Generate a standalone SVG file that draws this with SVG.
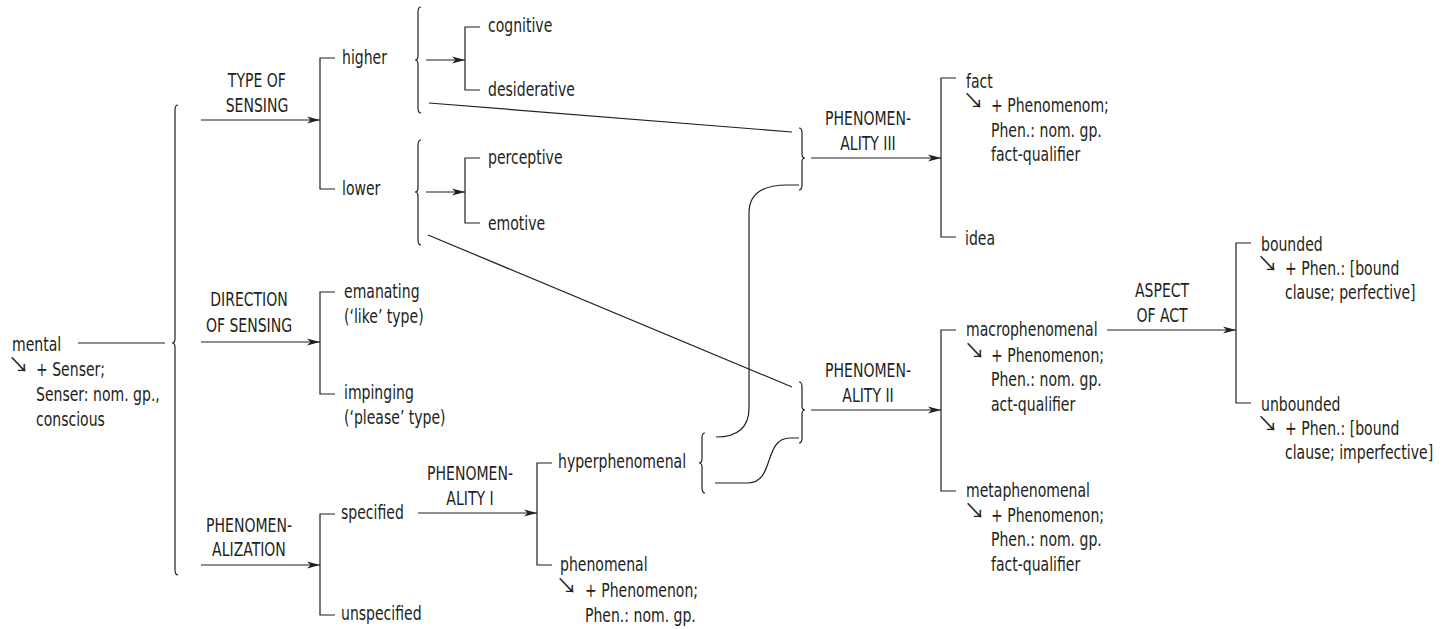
<svg xmlns="http://www.w3.org/2000/svg" width="1442" height="629" viewBox="0 0 1442 629">
<style>
.t{font-family:"Liberation Sans Narrow","DejaVu Sans Condensed","Liberation Sans",sans-serif;font-size:20px;fill:#231f20;transform:scaleX(0.78);transform-box:fill-box;transform-origin:0 0}
.c{text-anchor:middle;transform-origin:50% 0}
.s{font-family:"Noto Sans CJK JP","Noto Sans CJK SC","DejaVu Sans",sans-serif;font-size:21px;fill:#231f20}
.ln{fill:none;stroke:#231f20;stroke-width:1.2}
.ar{marker-end:url(#ah)}
</style>
<defs>
<marker id="ah" markerWidth="14" markerHeight="8" refX="13" refY="4" orient="auto" markerUnits="userSpaceOnUse"><path d="M0,0.6 L13,4 L0,7.4 L3.5,4 z" fill="#231f20"/></marker>
</defs>
<rect width="1442" height="629" fill="#fff"/>
<g id="connectors">
<path class="ln" d="M78,343 H165"/>
<path class="ln" d="M178,105 Q175,105 175,110 L175,339 Q175,343 172,343 Q175,343 175,347 L175,570 Q175,575 178,575"/>
<path class="ln ar" d="M201,120 H320"/>
<path class="ln ar" d="M201,342 H320"/>
<path class="ln ar" d="M201,565 H320"/>
<path class="ln" d="M335,58 H320 V189 H335"/>
<path class="ln" d="M335,292 H320 V394 H335"/>
<path class="ln" d="M335,514 H320 V615 H335"/>
<path class="ln" d="M421,7 Q418,7 418,12 L418,56 Q418,60 415,60 Q418,60 418,64 L418,108 Q418,113 421,113"/>
<path class="ln" d="M421,140 Q418,140 418,145 L418,188 Q418,192 415,192 Q418,192 418,196 L418,240 Q418,245 421,245"/>
<path class="ln ar" d="M426,60 H465"/>
<path class="ln ar" d="M426,192 H465"/>
<path class="ln" d="M480,27 H465 V90 H480"/>
<path class="ln" d="M480,158 H465 V223 H480"/>
<path class="ln" d="M429,103 L792,132"/>
<path class="ln" d="M428,235 L792,387"/>
<path class="ln ar" d="M418,513 H537"/>
<path class="ln" d="M552,463 H537 V565 H552"/>
<path class="ln" d="M705,433 Q702,433 702,438 L702,459 Q702,463 699,463 Q702,463 702,467 L702,488 Q702,493 705,493"/>
<path class="ln" d="M716,437 Q749,437 749,408 L749,213 Q749,185 787,185 L799,185"/>
<path class="ln" d="M715,483 L748,483 C775,483 763,438 790,438 L799,438"/>
<path class="ln" d="M799,128 Q802,128 802,133 L802,154 Q802,158 805,158 Q802,158 802,162 L802,185 Q802,190 799,190"/>
<path class="ln" d="M799,382 Q802,382 802,387 L802,406 Q802,410 805,410 Q802,410 802,414 L802,438 Q802,443 799,443"/>
<path class="ln ar" d="M811,158 H941"/>
<path class="ln ar" d="M811,410 H941"/>
<path class="ln" d="M956,78 H941 V237 H956"/>
<path class="ln" d="M956,330 H941 V491 H956"/>
<path class="ln ar" d="M1107,330 H1236"/>
<path class="ln" d="M1251,243 H1236 V403 H1251"/>
</g>
<g id="n-mental">
<text class="t" x="12" y="351">mental</text>
<text class="s" x="8" y="372">↘</text>
<text class="t" x="36" y="376">+ Senser;</text>
<text class="t" x="36" y="401">Senser: nom. gp.,</text>
<text class="t" x="36" y="426">conscious</text>
</g>
<g id="n-type-of-sensing"><text class="t c" x="257" y="87">TYPE OF</text><text class="t c" x="257" y="112">SENSING</text></g>
<g id="n-direction-of-sensing"><text class="t c" x="249" y="306">DIRECTION</text><text class="t c" x="249" y="332">OF SENSING</text></g>
<g id="n-phenomenalization"><text class="t c" x="249" y="532">PHENOMEN-</text><text class="t c" x="249" y="556">ALIZATION</text></g>
<g id="n-higher"><text class="t" x="342" y="64">higher</text></g>
<g id="n-lower"><text class="t" x="342" y="195">lower</text></g>
<g id="n-emanating"><text class="t" x="344" y="298">emanating</text><text class="t" x="344" y="323">(‘like’ type)</text></g>
<g id="n-impinging"><text class="t" x="344" y="399">impinging</text><text class="t" x="344" y="424">(‘please’ type)</text></g>
<g id="n-specified"><text class="t" x="341" y="519">specified</text></g>
<g id="n-unspecified"><text class="t" x="341" y="620">unspecified</text></g>
<g id="n-cognitive"><text class="t" x="488" y="32">cognitive</text></g>
<g id="n-desiderative"><text class="t" x="488" y="96">desiderative</text></g>
<g id="n-perceptive"><text class="t" x="488" y="164">perceptive</text></g>
<g id="n-emotive"><text class="t" x="488" y="230">emotive</text></g>
<g id="n-phenomenality-i"><text class="t c" x="470" y="480">PHENOMEN-</text><text class="t c" x="470" y="505">ALITY I</text></g>
<g id="n-hyperphenomenal"><text class="t" x="558" y="468">hyperphenomenal</text></g>
<g id="n-phenomenal">
<text class="t" x="560" y="571">phenomenal</text>
<text class="s" x="556" y="593">↘</text>
<text class="t" x="585" y="597">+ Phenomenon;</text>
<text class="t" x="585" y="622">Phen.: nom. gp.</text>
</g>
<g id="n-phenomenality-iii"><text class="t c" x="868" y="125">PHENOMEN-</text><text class="t c" x="868" y="150">ALITY III</text></g>
<g id="n-phenomenality-ii"><text class="t c" x="868" y="377">PHENOMEN-</text><text class="t c" x="868" y="402">ALITY II</text></g>
<g id="n-fact">
<text class="t" x="966" y="88">fact</text>
<text class="s" x="963" y="108">↘</text>
<text class="t" x="991" y="112">+ Phenomenom;</text>
<text class="t" x="991" y="137">Phen.: nom. gp.</text>
<text class="t" x="991" y="161">fact-qualifier</text>
</g>
<g id="n-idea"><text class="t" x="965" y="245">idea</text></g>
<g id="n-macrophenomenal">
<text class="t" x="966" y="336">macrophenomenal</text>
<text class="s" x="964" y="358">↘</text>
<text class="t" x="991" y="362">+ Phenomenon;</text>
<text class="t" x="991" y="386">Phen.: nom. gp.</text>
<text class="t" x="991" y="411">act-qualifier</text>
</g>
<g id="n-metaphenomenal">
<text class="t" x="966" y="497">metaphenomenal</text>
<text class="s" x="964" y="518">↘</text>
<text class="t" x="991" y="522">+ Phenomenon;</text>
<text class="t" x="991" y="546">Phen.: nom. gp.</text>
<text class="t" x="991" y="571">fact-qualifier</text>
</g>
<g id="n-aspect-of-act"><text class="t c" x="1162" y="297">ASPECT</text><text class="t c" x="1162" y="322">OF ACT</text></g>
<g id="n-bounded">
<text class="t" x="1261" y="251">bounded</text>
<text class="s" x="1257" y="271">↘</text>
<text class="t" x="1285" y="275">+ Phen.: [bound</text>
<text class="t" x="1285" y="299">clause; perfective]</text>
</g>
<g id="n-unbounded">
<text class="t" x="1261" y="411">unbounded</text>
<text class="s" x="1257" y="431">↘</text>
<text class="t" x="1285" y="435">+ Phen.: [bound</text>
<text class="t" x="1285" y="459">clause; imperfective]</text>
</g>
</svg>
